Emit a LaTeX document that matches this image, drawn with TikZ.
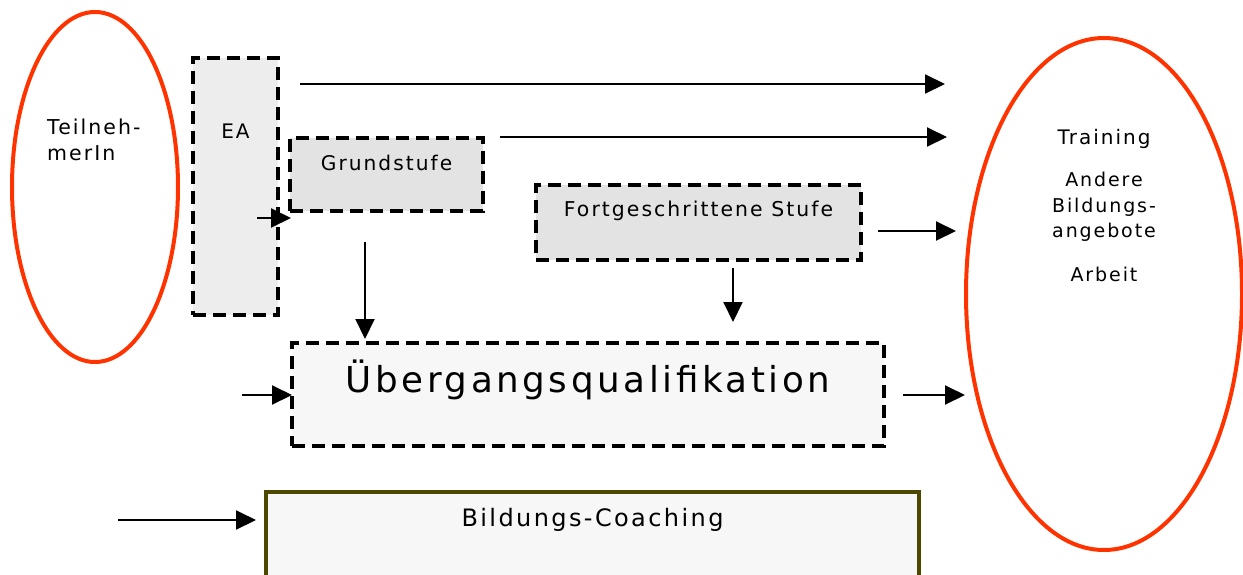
\documentclass[tikz,border=0pt]{standalone}
\usepackage{fontspec}
\setmainfont{DejaVu Sans}[LetterSpace=10]
\usetikzlibrary{arrows.meta,shapes.geometric}

\definecolor{ovalred}{HTML}{FF3300}
\definecolor{coachline}{HTML}{4D4800}

\begin{document}
\begin{tikzpicture}[x=1pt,y=-1pt,>={Triangle[length=20pt,width=19pt]},
    stufe/.style={draw,line width=4pt,dash pattern=on 13pt off 7pt,rectangle,inner sep=0pt},
    oval/.style={draw=ovalred,line width=4pt,ellipse,inner sep=0pt},
    txt/.style={font=\fontsize{20}{25.5}\selectfont,inner sep=0pt,align=center},
    pfeil/.style={->,line width=2pt}]
  \fill[white] (0,0) rectangle (1243,574);
  \useasboundingbox (0,0) rectangle (1243,574);
  \clip (0,0) rectangle (1243,574);

  % Ovale
  \node[oval,minimum width=166pt,minimum height=350pt] (tn) at (95,187) {};
  \node[oval,minimum width=276pt,minimum height=512pt] (ziel) at (1104,294) {};
  \node[txt,anchor=west,align=left,font=\fontsize{20.5}{25.5}\selectfont] (tntxt) at (47,140) {Teilneh-\\merIn};
  \node[txt] (training) at (1104,139) {Training};
  \node[txt,font=\fontsize{19}{25.5}\selectfont] (andere) at (1104,207) {Andere\\Bildungs-\\angebote};
  \node[txt,font=\fontsize{19}{25.5}\selectfont] (arbeit) at (1104,274) {Arbeit};

  % Stufen
  \node[stufe,fill=black!7,minimum width=85pt,minimum height=257pt] (ea) at (235.5,186.5) {};
  \node[stufe,fill=black!11,minimum width=193pt,minimum height=73pt] (gs) at (386.5,174.5) {};
  \node[stufe,fill=black!11,minimum width=325pt,minimum height=75pt] (fs) at (698.5,222.5) {};
  \node[stufe,fill=black!3,minimum width=592pt,minimum height=103pt] (uq) at (588,394.5) {};
  \node[draw=coachline,line width=4pt,fill=black!3,minimum width=653pt,minimum height=110pt] (bc) at (592.5,547) {};

  \node[txt] (eatxt) at ([yshift=-75]ea.north) {EA};
  \node[txt,font=\fontsize{20.2}{25}\selectfont] (gstxt) at ([yshift=-27]gs.north) {Grundstufe};
  \node[txt,font=\fontsize{20.4}{25}\selectfont] (fstxt) at ([yshift=-28]fs.north) {Fortgeschrittene Stufe};
  \node[txt,font=\fontsize{35.7}{40}\selectfont] (uqtxt) at ([yshift=-39]uq.north) {Übergangsqualifikation};
  \node[txt,font=\fontsize{24}{28}\selectfont] (bctxt) at ([yshift=-30]bc.north) {Bildungs-Coaching};

  % Pfeile
  \coordinate (p1) at (300,84);   \coordinate (q1) at (945,84);
  \coordinate (p2) at (500,137);  \coordinate (q2) at (947,137);
  \coordinate (p3) at (257,218);  \coordinate (q3) at (291,218);
  \coordinate (p4) at (878,231);  \coordinate (q4) at (956,231);
  \coordinate (p5) at (365,242);  \coordinate (q5) at (365,339);
  \coordinate (p6) at (733,268);  \coordinate (q6) at (733,322);
  \coordinate (p7) at (242,395);  \coordinate (q7) at (292,395);
  \coordinate (p8) at (903,395);  \coordinate (q8) at (965,395);
  \coordinate (p9) at (118,520);  \coordinate (q9) at (256,520);
  \path[pfeil]
    (p1) edge (q1)
    (p2) edge (q2)
    (p3) edge (q3)
    (p4) edge (q4)
    (p5) edge (q5)
    (p6) edge (q6)
    (p7) edge (q7)
    (p8) edge (q8)
    (p9) edge (q9)
    ;
\end{tikzpicture}
\end{document}
